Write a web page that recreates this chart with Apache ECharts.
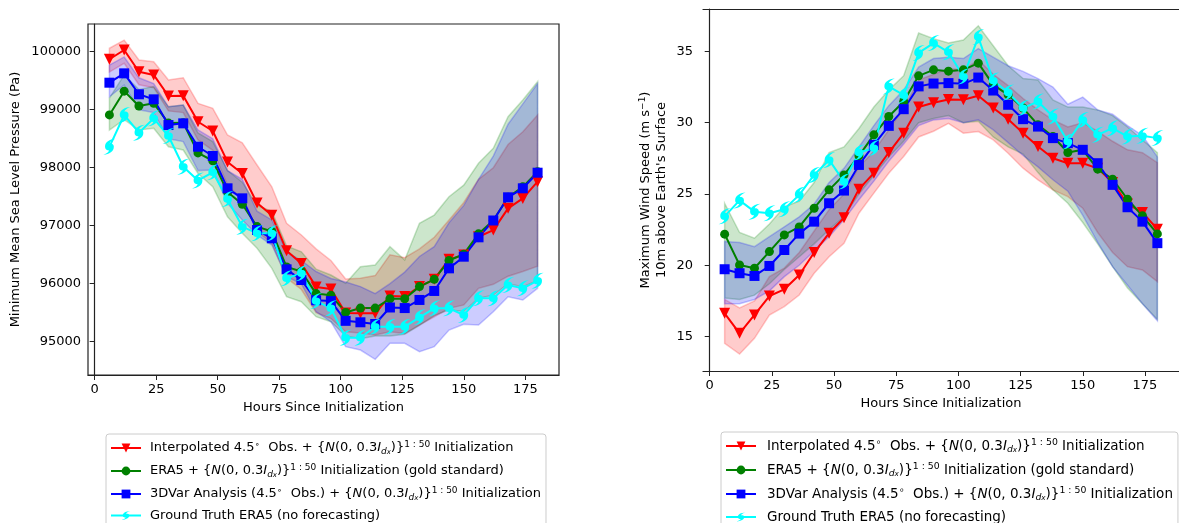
<!DOCTYPE html>
<html>
<head>
<meta charset="utf-8">
<script src="https://cdn.jsdelivr.net/npm/echarts@6/dist/echarts.min.js"></script>
<style>
  html, body { margin: 0; padding: 0; background: #fff; }
  #main { width: 1179px; height: 523px; }
</style>
</head>
<body>
<div id="main"></div>
<script>
const hours = [6, 12, 18, 24, 30, 36, 42, 48, 54, 60, 66, 72, 78, 84, 90, 96, 102, 108, 114, 120, 126, 132, 138, 144, 150, 156, 162, 168, 174, 180];
const xTicks = [0, 25, 50, 75, 100, 125, 150, 175];
const mslpTicks = [95000, 96000, 97000, 98000, 99000, 100000];
const windTicks = [15, 20, 25, 30, 35];

// minimum mean sea level pressure (Pa)
const mslpInterp = [99870, 100030, 99655, 99600, 99236, 99240, 98793, 98633, 98100, 97900, 97390, 97180, 96570, 96350, 95945, 95910, 95495, 95490, 95490, 95790, 95780, 95950, 96075, 96420, 96495, 96810, 96925, 97300, 97470, 97760];
const mslpEra5 = [98910, 99320, 99065, 99110, 98770, 98775, 98255, 98120, 97580, 97370, 96985, 96900, 96290, 96210, 95830, 95800, 95505, 95580, 95580, 95740, 95740, 95950, 96075, 96400, 96510, 96860, 97090, 97490, 97670, 97930];
const mslp3dvar = [99466, 99627, 99266, 99179, 98736, 98765, 98362, 98202, 97645, 97472, 96926, 96783, 96248, 96064, 95715, 95700, 95360, 95335, 95305, 95590, 95580, 95720, 95875, 96265, 96466, 96800, 97090, 97490, 97645, 97914];
const mslpTruth = [98360, 98909, 98604, 98851, 98547, 98017, 97780, 97920, 97460, 96983, 96869, 96869, 96093, 96179, 95700, 95578, 95070, 95070, 95259, 95259, 95259, 95420, 95576, 95576, 95460, 95748, 95748, 95977, 95920, 96052];

const mslpInterpLo = [99650, 99800, 99430, 99380, 98980, 98950, 98480, 98300, 97700, 97450, 96900, 96700, 96100, 95900, 95500, 95400, 95170, 95150, 95115, 95170, 95140, 95290, 95430, 95575, 95635, 95920, 95990, 96130, 96210, 96300];
const mslpInterpHi = [100060, 100200, 99857, 99828, 99512, 99552, 99110, 99024, 98564, 98430, 98047, 97672, 97041, 96840, 96600, 96400, 96080, 96093, 96140, 96500, 96450, 96600, 96800, 97100, 97400, 97800, 98000, 98400, 98620, 98910];
const mslpEra5Lo = [98650, 98830, 98650, 98680, 98362, 98305, 97900, 97672, 97155, 96869, 96610, 96266, 95776, 95690, 95431, 95345, 95100, 95050, 95100, 95100, 95130, 95280, 95450, 95550, 95520, 95750, 95800, 96000, 95950, 96050];
const mslpEra5Hi = [99200, 99600, 99350, 99400, 99050, 99080, 98600, 98450, 97950, 97750, 97350, 97250, 96650, 96550, 96250, 96150, 96007, 96293, 96322, 96638, 96410, 97041, 97184, 97500, 97700, 98076, 98334, 98880, 99167, 99483];
const mslp3dvarLo = [99224, 99426, 99000, 98950, 98500, 98450, 97950, 97960, 97386, 97098, 96840, 96667, 96121, 96000, 95517, 95345, 94914, 94857, 94697, 94972, 94972, 94828, 94914, 95201, 95300, 95288, 95517, 95776, 95719, 95920];
const mslp3dvarHi = [99770, 99910, 99550, 99450, 99050, 99080, 98650, 98500, 97950, 97800, 97250, 97100, 96550, 96400, 96210, 96090, 96030, 95950, 95830, 96000, 96200, 96470, 96640, 97050, 97350, 97800, 98200, 98750, 99100, 99450];

// maximum 10m wind speed (m/s)
const windInterp = [16.63, 15.22, 16.51, 17.84, 18.31, 19.32, 20.89, 22.25, 23.33, 25.34, 26.46, 27.91, 29.27, 31.10, 31.40, 31.63, 31.61, 31.89, 31.03, 30.25, 29.27, 28.33, 27.51, 27.16, 27.16, 26.80, 25.80, 24.30, 23.70, 22.53];
const windEra5 = [22.18, 20.02, 19.79, 20.96, 22.13, 22.69, 24.00, 25.29, 26.34, 27.68, 29.15, 30.44, 31.49, 33.29, 33.71, 33.62, 33.71, 34.18, 32.66, 31.96, 31.03, 29.85, 29.03, 27.91, 28.10, 26.74, 26.04, 24.63, 23.47, 22.20];
const wind3dvar = [19.72, 19.44, 19.25, 19.95, 21.07, 22.22, 23.06, 24.35, 25.24, 27.04, 28.45, 29.78, 30.95, 32.55, 32.75, 32.78, 32.73, 33.17, 32.26, 31.26, 30.25, 29.73, 28.92, 28.57, 28.10, 27.16, 25.64, 24.07, 23.06, 21.55];
const windTruth = [23.43, 24.55, 23.76, 23.65, 23.93, 24.94, 26.34, 27.39, 25.87, 27.91, 28.22, 32.55, 31.93, 34.90, 35.59, 34.95, 33.24, 36.01, 32.96, 32.12, 31.03, 31.49, 30.44, 28.68, 30.20, 29.15, 29.62, 29.03, 29.08, 28.92];

const windInterpLo = [14.52, 13.77, 14.87, 16.51, 17.10, 17.91, 19.44, 20.60, 21.54, 23.65, 25.06, 26.46, 27.63, 29.00, 29.40, 29.95, 29.27, 29.38, 28.80, 27.86, 26.81, 25.99, 25.29, 24.82, 24.00, 22.30, 20.90, 19.90, 19.67, 18.85];
const windInterpHi = [17.6, 17.0, 17.5, 19.2, 19.8, 20.9, 22.4, 23.9, 25.0, 26.9, 28.0, 29.5, 31.0, 33.0, 33.4, 33.8, 33.7, 34.4, 33.4, 32.6, 31.7, 30.9, 30.2, 29.7, 30.0, 29.4, 28.7, 28.1, 27.9, 27.2];
const windEra5Lo = [17.7, 17.6, 17.9, 18.7, 19.7, 20.6, 21.5, 22.5, 23.4, 25.0, 26.3, 27.6, 28.7, 30.0, 30.3, 30.5, 30.0, 30.1, 29.0, 28.3, 27.8, 26.5, 25.3, 24.35, 23.0, 21.5, 19.9, 18.4, 17.3, 16.2];
const windEra5Hi = [24.35, 22.3, 21.9, 22.9, 24.1, 24.5, 25.8, 27.9, 28.3, 29.6, 31.1, 32.3, 33.3, 36.3, 35.9, 35.6, 35.8, 36.8, 35.4, 34.0, 33.1, 33.0, 31.6, 31.1, 31.1, 30.9, 30.5, 29.7, 28.8, 27.9];
const wind3dvarLo = [17.3, 17.3, 17.6, 18.2, 19.2, 20.0, 21.0, 22.0, 23.2, 24.6, 25.9, 27.3, 28.5, 29.8, 30.2, 30.3, 30.0, 30.2, 29.5, 28.6, 27.7, 26.9, 26.0, 25.2, 23.5, 21.6, 19.9, 18.6, 17.3, 16.1];
const wind3dvarHi = [21.66, 21.6, 21.3, 22.0, 22.7, 23.4, 24.3, 25.8, 26.8, 28.3, 29.8, 31.2, 32.3, 33.9, 34.5, 34.6, 34.5, 35.2, 34.6, 34.0, 33.6, 33.1, 32.5, 31.3, 31.8, 30.9, 30.6, 29.8, 29.1, 27.6];

const FONT = 'DejaVu Sans';
const names = ['interp', 'era5', '3dvar', 'truth'];
const noise = '{{i|N}{t|(0, 0.3}{i|I}{sub|d}{sub2|x}{t|)}}{sup|1 : 50}';
const legendText = {
  interp: '{g| }{t|Interpolated 4.5}{deg|∘}{t|  Obs. + }' + noise + '{t| Initialization}',
  era5: '{g| }{t|ERA5 + }' + noise + '{t| Initialization (gold standard)}',
  '3dvar': '{g| }{t|3DVar Analysis (4.5}{deg|∘}{t|  Obs.) + }' + noise + '{t| Initialization}',
  truth: '{g| }{t|Ground Truth ERA5 (no forecasting)}'
};

function makeRich(fs, gap) {
  const s = fs / 13;
  return {
    g: { width: gap },
    t: { fontFamily: FONT, fontSize: fs, color: '#000', lineHeight: 16 },
    i: { fontFamily: FONT, fontSize: fs, fontStyle: 'italic', color: '#000', lineHeight: 16 },
    sup: { fontFamily: FONT, fontSize: 9 * s, color: '#000', lineHeight: 10, verticalAlign: 'top' },
    deg: { fontFamily: FONT, fontSize: 9 * s, color: '#000', lineHeight: 10, verticalAlign: 'top' },
    sub: { fontFamily: FONT, fontSize: 9 * s, fontStyle: 'italic', color: '#000', lineHeight: 9, verticalAlign: 'bottom' },
    sub2: { fontFamily: FONT, fontSize: 7 * s, fontStyle: 'italic', color: '#000', lineHeight: 6, verticalAlign: 'bottom' }
  };
}

const hurricane = 'path://M50,28 A22,22 0 1,1 49.99,28 Z M28,50 C28,22 50,5 80,2 C63,10 53,20 52,28 Z M72,50 C72,78 50,95 20,98 C37,90 47,80 48,72 Z';

const chart = echarts.init(document.getElementById('main'));

function band(idx, lo, hi, rgb) {
  return {
    type: 'custom',
    xAxisIndex: idx,
    yAxisIndex: idx,
    silent: true,
    z: 1,
    clip: true,
    data: hours.map((h, i) => [h, lo[i], hi[i]]),
    encode: { x: 0, y: [1, 2] },
    renderItem: (params, api) => {
      if (params.dataIndex !== 0) return;
      const top = hours.map((h, i) => api.coord([h, hi[i]]));
      const bot = hours.map((h, i) => api.coord([h, lo[i]])).reverse();
      return {
        type: 'polygon',
        shape: { points: top.concat(bot) },
        style: { fill: 'rgba(' + rgb + ',0.2)', stroke: 'rgba(' + rgb + ',0.22)', lineWidth: 1.5 }
      };
    }
  };
}

function line(idx, name, vals, color, symbol, size, rot) {
  return {
    type: 'line',
    name: name,
    xAxisIndex: idx,
    yAxisIndex: idx,
    z: 3,
    data: hours.map((h, i) => [h, vals[i]]),
    symbol: symbol,
    symbolSize: size,
    symbolRotate: rot || 0,
    showAllSymbol: true,
    lineStyle: { color: color, width: 2 },
    itemStyle: { color: color }
  };
}

const axisColor = '#222';

function xAxis(idx, gap) {
  return {
    gridIndex: idx,
    type: 'value',
    min: -2.7,
    max: 188.7,
    name: 'Hours Since Initialization',
    nameLocation: 'middle',
    nameGap: gap,
    nameTextStyle: { fontFamily: FONT, fontSize: 13, color: '#000' },
    axisLine: { show: true, onZero: false, lineStyle: { color: axisColor, width: 1.2 } },
    axisTick: { customValues: xTicks, length: 5, lineStyle: { color: axisColor } },
    axisLabel: { customValues: xTicks, fontFamily: FONT, fontSize: 13, color: '#000', margin: 8 },
    splitLine: { show: false }
  };
}

// plain top spine for the right panel (its right spine falls outside the picture)
function topSpine(idx) {
  return {
    gridIndex: idx, type: 'value', position: 'top', min: -2.7, max: 188.7,
    axisLine: { show: true, onZero: false, lineStyle: { color: axisColor, width: 1.2 } },
    axisTick: { show: false }, axisLabel: { show: false }, splitLine: { show: false }
  };
}

function legend(left, top, gap, extra, fs) {
  return {
    orient: 'vertical',
    left: left,
    top: top,
    height: 130,
    padding: [6, 5, 4, 4],
    itemWidth: 30,
    itemHeight: 11,
    itemGap: gap,
    selectedMode: false,
    borderColor: '#cccccc',
    borderWidth: 1,
    borderRadius: 3,
    backgroundColor: '#fff',
    data: names,
    formatter: name => legendText[name],
    textStyle: { fontFamily: FONT, fontSize: fs, color: '#000', rich: makeRich(fs, extra) }
  };
}

const option = {
  animation: false,
  backgroundColor: '#fff',
  grid: [
    { left: 88, top: 24, width: 471, height: 351, show: true, borderColor: axisColor, borderWidth: 1.2, backgroundColor: 'transparent' },
    { left: 703, top: 9, width: 485, height: 362 }
  ],
  xAxis: [xAxis(0, 26), xAxis(1, 26), topSpine(1)],
  yAxis: [
    {
      gridIndex: 0, type: 'value', min: 94426, max: 100478,
      name: 'Minimum Mean Sea Level Pressure (Pa)',
      nameLocation: 'middle', nameGap: 66,
      nameTextStyle: { fontFamily: FONT, fontSize: 13, color: '#000' },
      axisLine: { show: true, lineStyle: { color: axisColor, width: 1.2 } },
      axisTick: { show: true, customValues: mslpTicks, length: 5, lineStyle: { color: axisColor } },
      axisLabel: { customValues: mslpTicks, formatter: v => String(v), fontFamily: FONT, fontSize: 13, color: '#000', margin: 7 },
      splitLine: { show: false }
    },
    {
      gridIndex: 1, type: 'value', min: 12.58, max: 37.98,
      name: '{t|Maximum Wind Speed (m s}{sup|−1}{t|)}\n{t|10m above Earth\'s Surface}',
      nameLocation: 'middle', nameGap: 33,
      nameTextStyle: { fontFamily: FONT, fontSize: 13, color: '#000', rich: makeRich(13, 0) },
      axisLine: { show: true, lineStyle: { color: axisColor, width: 1.2 } },
      axisTick: { show: true, customValues: windTicks, length: 5, lineStyle: { color: axisColor } },
      axisLabel: { customValues: windTicks, formatter: v => String(v), fontFamily: FONT, fontSize: 13, color: '#000', margin: 10 },
      splitLine: { show: false }
    }
  ],
  legend: [legend(106, 434, 7, 4, 13), legend(721, 432, 8, 6, 13.5)],
  series: [
    band(0, mslpInterpLo, mslpInterpHi, '255,0,0'),
    band(0, mslpEra5Lo, mslpEra5Hi, '0,128,0'),
    band(0, mslp3dvarLo, mslp3dvarHi, '0,0,255'),
    line(0, 'interp', mslpInterp, '#ff0000', 'triangle', 11, 180),
    line(0, 'era5', mslpEra5, '#008000', 'circle', 9),
    line(0, '3dvar', mslp3dvar, '#0000ff', 'rect', 10),
    line(0, 'truth', mslpTruth, '#00ffff', hurricane, [12, 16]),
    band(1, windInterpLo, windInterpHi, '255,0,0'),
    band(1, windEra5Lo, windEra5Hi, '0,128,0'),
    band(1, wind3dvarLo, wind3dvarHi, '0,0,255'),
    line(1, 'interp', windInterp, '#ff0000', 'triangle', 11, 180),
    line(1, 'era5', windEra5, '#008000', 'circle', 9),
    line(1, '3dvar', wind3dvar, '#0000ff', 'rect', 10),
    line(1, 'truth', windTruth, '#00ffff', hurricane, [12, 16])
  ]
};

chart.setOption(option);
</script>
</body>
</html>
